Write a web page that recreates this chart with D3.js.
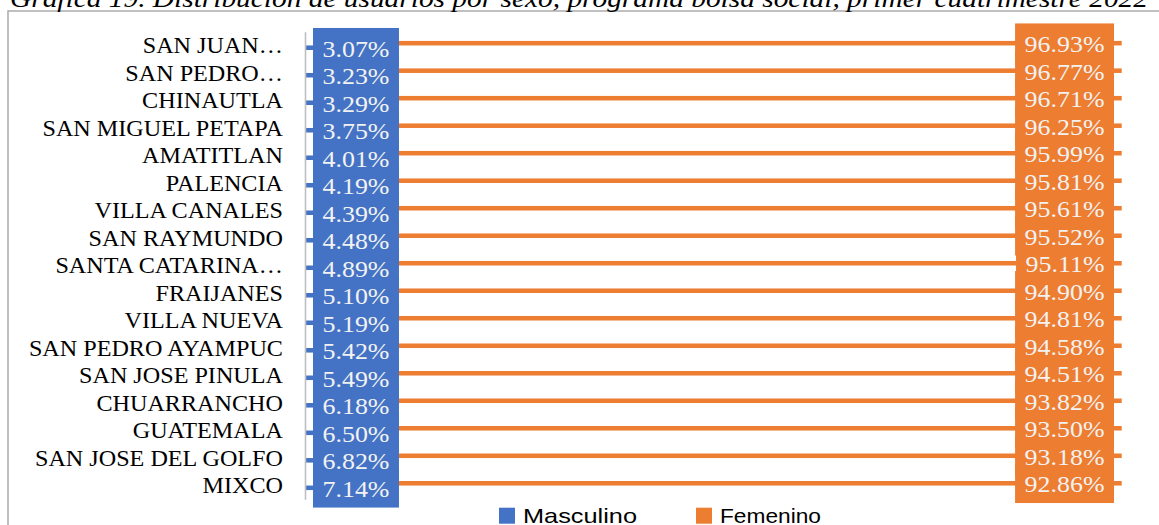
<!DOCTYPE html>
<html>
<head>
<meta charset="utf-8">
<script src="https://cdn.jsdelivr.net/npm/d3@7"></script>
<style>
  body { margin: 0; background: #fff; }
  svg { display: block; }
</style>
</head>
<body>
<svg width="1159" height="525"></svg>
<script>
const categories = ['SAN JUAN…', 'SAN PEDRO…', 'CHINAUTLA', 'SAN MIGUEL PETAPA', 'AMATITLAN',
  'PALENCIA', 'VILLA CANALES', 'SAN RAYMUNDO', 'SANTA CATARINA…', 'FRAIJANES', 'VILLA NUEVA',
  'SAN PEDRO AYAMPUC', 'SAN JOSE PINULA', 'CHUARRANCHO', 'GUATEMALA', 'SAN JOSE DEL GOLFO', 'MIXCO']
const masculino = [3.07, 3.23, 3.29, 3.75, 4.01, 4.19, 4.39, 4.48, 4.89, 5.10, 5.19, 5.42, 5.49, 6.18, 6.50, 6.82, 7.14]
const femenino = [96.93, 96.77, 96.71, 96.25, 95.99, 95.81, 95.61, 95.52, 95.11, 94.90, 94.81, 94.58, 94.51, 93.82, 93.50, 93.18, 92.86]
const series = ['Masculino', 'Femenino']
const colors = { Masculino: '#4472C4', Femenino: '#ED7D31' }
const title = 'Gráfica 19. Distribución de usuarios por sexo, programa bolsa social, primer cuatrimestre 2022'

const svg = d3.select('svg')
const serif = "'Liberation Serif', 'Times New Roman', serif"

// chart frame (runs off the right and bottom of the picture)
svg.append('rect')
  .attr('x', 8).attr('y', 11)
  .attr('width', 1300).attr('height', 700)
  .attr('fill', 'none')
  .attr('stroke', '#a6a6a6')
  .attr('stroke-width', 1.4)

svg.append('text')
  .text(title)
  .attr('x', 10)
  .attr('y', 7)
  .attr('textLength', 1138)
  .attr('lengthAdjust', 'spacingAndGlyphs')
  .style('font-family', serif)
  .style('font-style', 'italic')
  .style('font-size', '26px')
  .attr('fill', '#000')

const rows = categories.map((c, i) => ({ cat: c, Masculino: masculino[i], Femenino: femenino[i] }))
const stacked = d3.stack().keys(series)(rows)

const x = d3.scaleLinear().domain([0, 100]).range([305, 1121.7])
const y = d3.scaleBand().domain(categories).range([31.7, 499.3])
  .paddingInner(0.67).paddingOuter(0.335)
const ySub = d3.scaleBand().domain(['Femenino', 'Masculino']).range([0, y.bandwidth()])

// bars
svg.append('g').selectAll('g')
  .data(stacked)
  .enter()
  .append('g')
  .attr('fill', s => colors[s.key])
  .each(function(s) {
    d3.select(this).selectAll('rect')
      .data(s)
      .enter()
      .append('rect')
      .attr('x', d => x(d[0]))
      .attr('width', d => x(d[1]) - x(d[0]))
      .attr('y', d => y(d.data.cat) + ySub(s.key))
      .attr('height', ySub.bandwidth())
  })

// data labels with filled boxes: all boxes first, then all texts on top
const boxH = 39.5
const sx = 1.08
const boxLayer = svg.append('g')
const textLayer = svg.append('g')
stacked.forEach(s => {
  s.forEach(d => {
    const cy = y(d.data.cat) + ySub(s.key) + ySub.bandwidth() / 2
    const t = textLayer.append('text')
      .text(d.data[s.key].toFixed(2) + '%')
      .style('font-family', serif)
      .style('font-size', '24px')
      .attr('fill', '#f2f2f2')
      .attr('text-anchor', 'middle')
    const w = t.node().getComputedTextLength() * sx + 19
    const left = s.key === 'Masculino' ? x(d[0]) + 8 : x(d[1]) - 7.7 - w
    boxLayer.append('rect')
      .attr('fill', colors[s.key])
      .attr('x', left).attr('y', cy - boxH / 2)
      .attr('width', w).attr('height', boxH)
    t.attr('transform', `translate(${left + w / 2}, ${cy + 9}) scale(${sx}, 1)`)
  })
})

// category axis
const yAxis = d3.axisLeft(y).tickSize(0).tickSizeOuter(0).tickPadding(21)
const ax = svg.append('g')
  .attr('transform', `translate(${x(0)}, 0)`)
  .call(yAxis)
ax.select('.domain').attr('stroke', '#bfbfbf').attr('stroke-width', 1.6)
ax.selectAll('.tick text')
  .style('font-family', serif)
  .style('font-size', '23px')
  .attr('fill', '#000')
  .attr('dy', '0.33em')
  .attr('transform', 'scale(1.05, 1)')

// legend
const legendX = [499, 696]
const legendW = [114, 101]
const legend = svg.append('g')
series.forEach((k, i) => {
  legend.append('rect')
    .attr('x', legendX[i]).attr('y', 507.7)
    .attr('width', 16).attr('height', 16)
    .attr('fill', colors[k])
  legend.append('text')
    .text(k)
    .attr('x', legendX[i] + 24)
    .attr('y', 523.3)
    .attr('textLength', legendW[i])
    .attr('lengthAdjust', 'spacingAndGlyphs')
    .style('font-family', "'Liberation Sans', Arial, sans-serif")
    .style('font-size', '21px')
    .attr('fill', '#000')
})
</script>
</body>
</html>
